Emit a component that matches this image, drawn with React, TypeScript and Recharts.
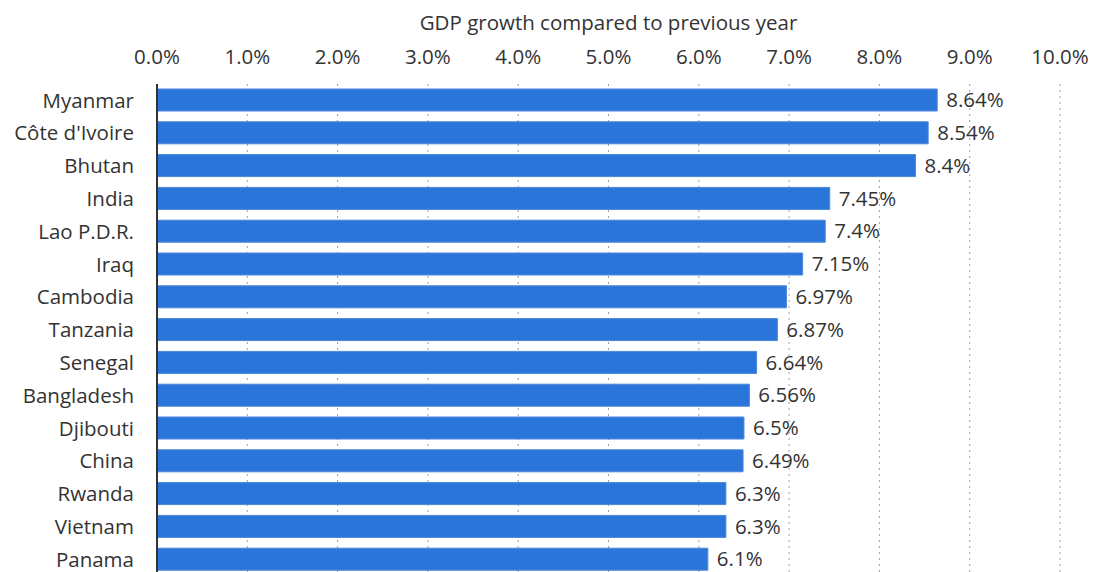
import React from "react";
import {
  BarChart,
  Bar,
  XAxis,
  YAxis,
  CartesianGrid,
  LabelList,
} from "recharts";

// GDP growth by country
const countries = [
  "Myanmar",
  "Côte d'Ivoire",
  "Bhutan",
  "India",
  "Lao P.D.R.",
  "Iraq",
  "Cambodia",
  "Tanzania",
  "Senegal",
  "Bangladesh",
  "Djibouti",
  "China",
  "Rwanda",
  "Vietnam",
  "Panama",
];
const growth = [
  8.64, 8.54, 8.4, 7.45, 7.4, 7.15, 6.97, 6.87, 6.64, 6.56, 6.5, 6.49, 6.3,
  6.3, 6.1,
];
const xTicks = [0, 1, 2, 3, 4, 5, 6, 7, 8, 9, 10];

const FONT = "'Open Sans', sans-serif";
const TEXT = "#333333";
const SIZE = 20.5;

const App: React.FC = () => {
  const data = countries.map((name, i) => ({ name, value: growth[i] }));

  return (
    <div style={{ position: "absolute", left: 0, top: 0, fontFamily: FONT }}>
      <BarChart
        width={1095}
        height={580}
        data={data}
        layout="vertical"
        margin={{ top: 0, right: 35, bottom: 4, left: 0 }}
        barSize={22}
      >
        <CartesianGrid
          horizontal={false}
          stroke="#a0a0a0"
          strokeDasharray="2 4"
        />
        <XAxis
          type="number"
          orientation="top"
          domain={[0, 10]}
          ticks={xTicks}
          height={84}
          axisLine={false}
          tickLine={false}
          tickSize={0}
          tickMargin={20}
          tickFormatter={(v: number) => `${v.toFixed(1)}%`}
          tick={{ fill: TEXT, fontSize: SIZE, fontFamily: FONT }}
          label={{
            value: "GDP growth compared to previous year",
            position: "insideTop",
            offset: 15,
            fill: TEXT,
            fontSize: SIZE,
            fontFamily: FONT,
          }}
        />
        <YAxis
          type="category"
          dataKey="name"
          width={157}
          axisLine={{ stroke: "#333333", strokeWidth: 2 }}
          tickLine={false}
          tickSize={0}
          tickMargin={23}
          interval={0}
          tick={{ fill: TEXT, fontSize: SIZE, fontFamily: FONT }}
        />
        <Bar
          dataKey="value"
          fill="#2a75d9"
          stroke="#4a87da"
          strokeWidth={1}
          isAnimationActive={false}
        >
          <LabelList
            dataKey="value"
            position="right"
            offset={9}
            formatter={(v: number) => `${v}%`}
            style={{ fill: TEXT, fontSize: SIZE, fontFamily: FONT }}
          />
        </Bar>
      </BarChart>
    </div>
  );
};

export default App;
